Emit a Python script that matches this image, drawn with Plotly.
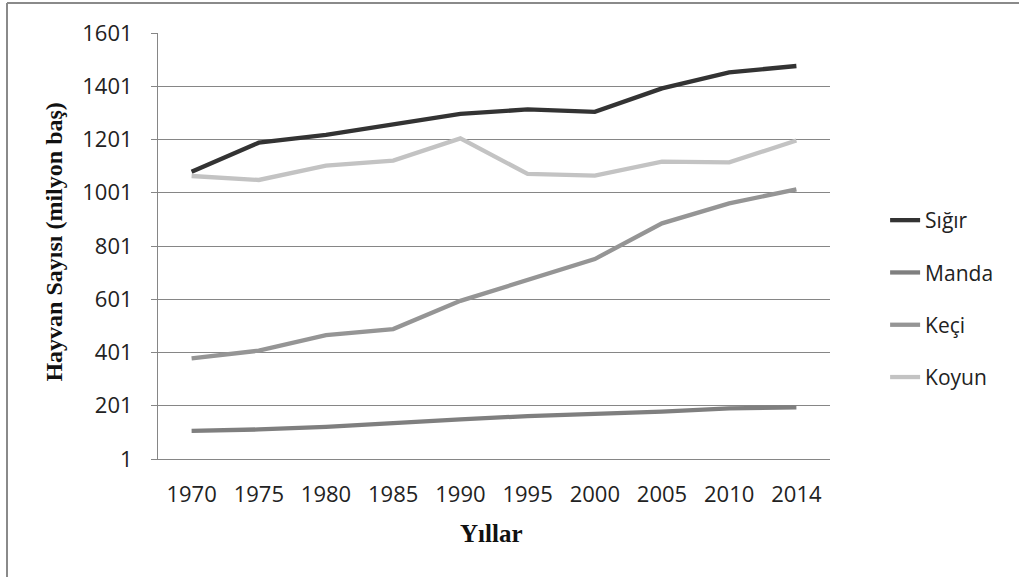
import plotly.graph_objects as go

years = ["1970", "1975", "1980", "1985", "1990", "1995", "2000", "2005", "2010", "2014"]
sigir = [1080, 1189, 1218, 1259, 1297, 1314, 1305, 1393, 1453, 1477]
manda = [107, 112, 122, 137, 150, 162, 169, 179, 191, 195]
keci = [379, 408, 466, 489, 595, 675, 752, 886, 961, 1014]
koyun = [1064, 1049, 1103, 1122, 1205, 1072, 1065, 1118, 1115, 1197]
y_ticks = [1, 201, 401, 601, 801, 1001, 1201, 1401, 1601]

series = [
    ("Sığır", sigir, "#333333"),
    ("Manda", manda, "#7f7f7f"),
    ("Keçi", keci, "#959595"),
    ("Koyun", koyun, "#c3c3c3"),
]

fig = go.Figure()
for i, (name, vals, col) in enumerate(series):
    fig.add_trace(go.Scatter(
        x=years, y=vals, name=name, mode="lines",
        line=dict(color=col, width=4.3),
        legendgroup=f"g{i}",
    ))

tick_font = dict(family="Open Sans", size=22, color="#222222")

fig.update_layout(
    width=1019, height=577,
    margin=dict(l=158, r=189, t=33, b=118),
    paper_bgcolor="white", plot_bgcolor="white",
    showlegend=True,
    legend=dict(
        x=1.082, y=0.608, xanchor="left", yanchor="top",
        font=dict(family="Open Sans", size=21, color="#222222"),
        tracegroupgap=22, traceorder="grouped",
        bgcolor="rgba(0,0,0,0)",
    ),
    xaxis=dict(
        type="category", range=[-0.5, 9.5],
        showgrid=False, showline=True, linecolor="#868686", linewidth=1,
        ticks="", tickfont=tick_font, zeroline=False,
        ticklabelstandoff=16,
    ),
    yaxis=dict(
        range=[1, 1601], tickmode="array", tickvals=y_ticks,
        ticktext=[str(v) for v in y_ticks],
        showgrid=True, gridcolor="#868686", gridwidth=1,
        showline=True, linecolor="#868686", linewidth=1,
        ticks="outside", ticklen=6, tickcolor="#868686",
        tickfont=tick_font, zeroline=False,
        ticklabelstandoff=14,
    ),
    annotations=[
        dict(text="<b>Hayvan Sayısı (milyon baş)</b>", xref="paper", yref="paper",
             x=-0.155, y=0.51, xanchor="center", yanchor="middle", textangle=-90,
             showarrow=False, font=dict(family="Liberation Serif", size=24, color="#111111")),
        dict(text="<b>Yıllar</b>", xref="paper", yref="paper",
             x=0.497, y=-0.174, xanchor="center", yanchor="middle",
             showarrow=False, font=dict(family="Liberation Serif", size=25, color="#111111")),
    ],
    shapes=[
        dict(type="line", xref="paper", yref="paper",
             x0=-0.2247, x1=1.29, y0=1.0704, y1=1.0704,
             line=dict(color="#8a8a8a", width=2)),
        dict(type="line", xref="paper", yref="paper",
             x0=-0.2247, x1=-0.2247, y0=1.0704, y1=-0.29,
             line=dict(color="#8a8a8a", width=2)),
    ],
)

fig.write_html("out.html", config={"displayModeBar": False},
               post_script="document.body.style.margin='0';")
